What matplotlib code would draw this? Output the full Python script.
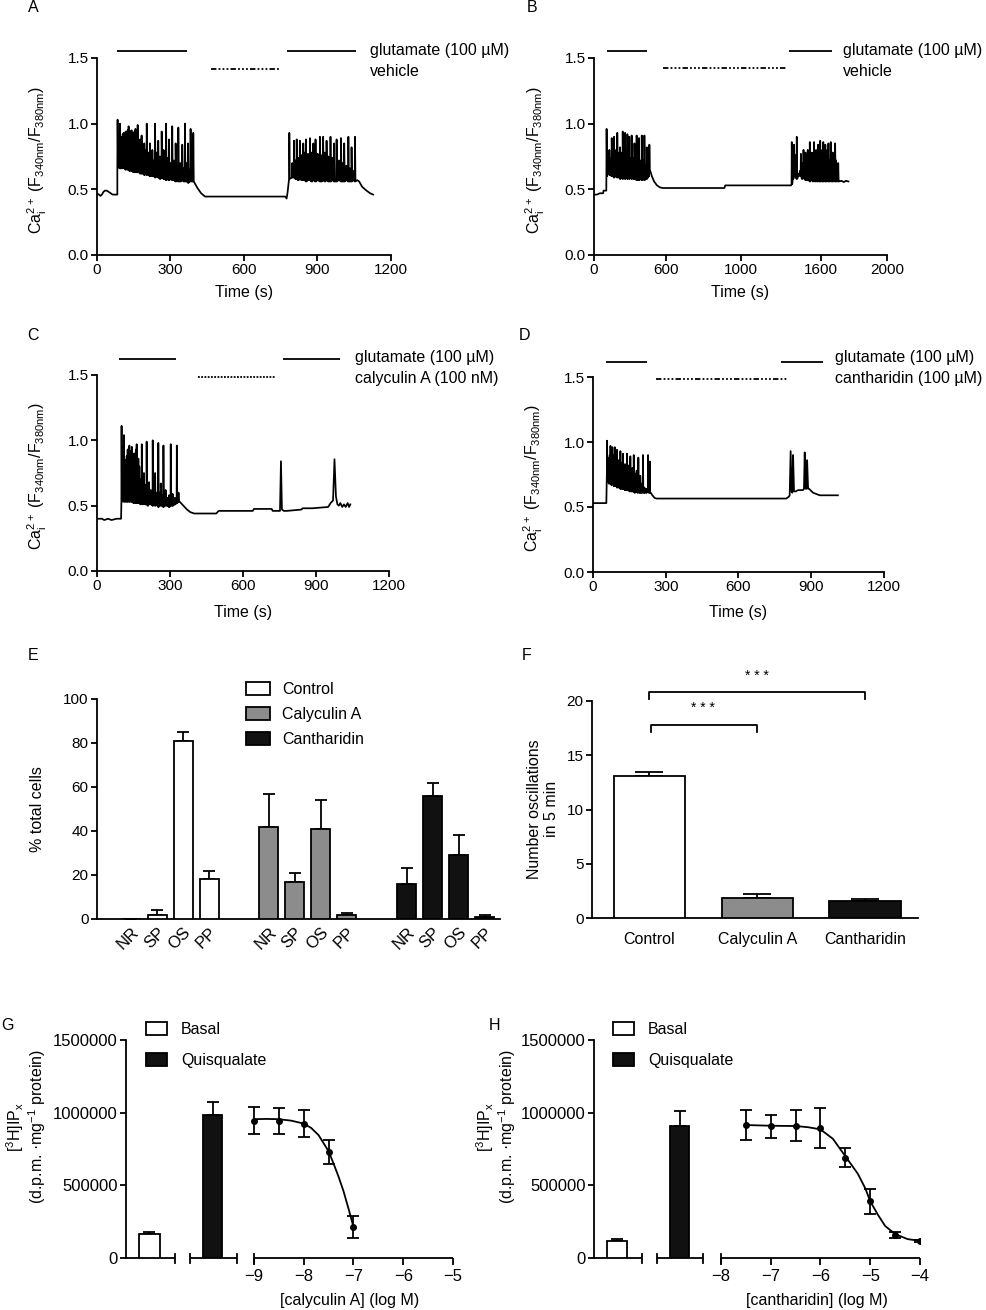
import numpy as np
import matplotlib
matplotlib.use('Agg')
import matplotlib.pyplot as plt
from matplotlib.patches import Patch
from matplotlib.transforms import blended_transform_factory

plt.rcParams['font.family'] = ['Liberation Sans', 'DejaVu Sans']
plt.rcParams['mathtext.default'] = 'regular'
plt.rcParams['axes.unicode_minus'] = True

# ---------------- DATA ----------------
# Panel A  (time s, ratio)
A_pre_t = [0, 8, 14, 20, 26, 32, 40, 48, 56, 64, 72, 80, 83]
A_pre_v = [0.47, 0.46, 0.45, 0.46, 0.48, 0.49, 0.49, 0.48, 0.47, 0.46, 0.46, 0.46, 0.46]
A_b1_t = [84, 94, 101, 105, 109, 113, 117, 121, 125, 129,
          133, 137, 141, 145, 149, 153, 157, 161, 166, 171,
          176, 182, 187, 193, 198, 203, 210, 216, 221, 226,
          232, 237, 244, 250, 257, 264, 272, 277, 282, 288,
          294, 300, 307, 314, 321, 327, 332, 340, 348, 354,
          359, 366, 372, 377, 382, 388, 393]
A_b1_pk = [1.03, 1.00, 0.90, 0.92, 0.93, 0.92, 0.94, 0.93, 0.95, 0.98,
           0.93, 0.94, 0.95, 0.93, 0.92, 0.94, 0.96, 0.93, 0.99, 0.86,
           0.88, 0.91, 0.82, 0.85, 0.80, 1.00, 0.78, 0.85, 0.76, 0.80,
           0.72, 1.00, 0.78, 0.87, 0.75, 0.94, 0.80, 0.70, 1.00, 0.74,
           0.88, 0.70, 0.98, 0.72, 0.85, 0.68, 0.97, 0.70, 0.84, 0.66,
           1.00, 0.70, 0.85, 0.65, 0.96, 0.68, 0.93]
A_b1_tr = [0.67, 0.66, 0.66, 0.67, 0.66, 0.66, 0.65, 0.66, 0.65, 0.65,
           0.64, 0.65, 0.64, 0.64, 0.63, 0.64, 0.63, 0.63, 0.63, 0.63,
           0.62, 0.62, 0.62, 0.61, 0.62, 0.61, 0.61, 0.60, 0.61, 0.60,
           0.60, 0.59, 0.60, 0.59, 0.58, 0.59, 0.58, 0.58, 0.57, 0.58,
           0.57, 0.58, 0.57, 0.57, 0.56, 0.57, 0.56, 0.56, 0.57, 0.56,
           0.56, 0.56, 0.55, 0.56, 0.56, 0.56, 0.56]
A_mid_t = [398, 410, 425, 441, 600, 768, 774, 778]
A_mid_v = [0.55, 0.51, 0.47, 0.445, 0.445, 0.445, 0.43, 0.48]
A_b2_t = [785, 797, 804, 810, 815, 821, 828, 835, 842, 848,
          853, 861, 869, 876, 883, 892, 901, 910, 916, 923,
          930, 937, 945, 953, 960, 968, 978, 987, 996, 1003,
          1009, 1018, 1026, 1033, 1039, 1046, 1053]
A_b2_pk = [0.93, 0.70, 0.87, 0.72, 0.88, 0.74, 0.87, 0.76, 0.85, 0.78,
           0.88, 0.77, 0.89, 0.78, 0.85, 0.88, 0.77, 0.90, 0.76, 0.90,
           0.78, 0.87, 0.75, 0.90, 0.74, 0.85, 0.88, 0.72, 0.89, 0.70,
           0.85, 0.68, 0.90, 0.66, 0.82, 0.64, 0.90]
A_b2_tr = [0.58, 0.59, 0.59, 0.58, 0.58, 0.57, 0.58, 0.57, 0.57, 0.57,
           0.56, 0.57, 0.57, 0.56, 0.57, 0.56, 0.57, 0.56, 0.56, 0.57,
           0.56, 0.57, 0.56, 0.56, 0.57, 0.56, 0.56, 0.57, 0.56, 0.56,
           0.56, 0.57, 0.56, 0.56, 0.56, 0.57, 0.56]
A_post_t = [1062, 1070, 1082, 1100, 1115, 1127]
A_post_v = [0.57, 0.56, 0.52, 0.49, 0.47, 0.46]
A_glut = [(82, 367), (775, 1057)]
A_drug = [(465, 743)]

# Panel B
B_pre_t = [0, 20, 40, 62, 65, 80, 84]
B_pre_v = [0.46, 0.46, 0.47, 0.47, 0.49, 0.49, 0.49]
B_b1_t = [86, 93, 100, 105, 112, 121, 128, 137, 144, 151,
          159, 166, 172, 178, 185, 191, 196, 203, 212, 219,
          228, 234, 241, 248, 257, 264, 270, 276, 283, 291,
          298, 307, 314, 320, 326, 333, 339, 344, 351, 360,
          366, 373, 378]
B_b1_pk = [0.96, 0.75, 0.78, 0.80, 0.74, 0.89, 0.76, 0.90, 0.72, 0.80,
           0.93, 0.75, 0.78, 0.82, 0.74, 0.78, 0.94, 0.80, 0.93, 0.78,
           0.92, 0.76, 0.90, 0.74, 0.91, 0.74, 0.70, 0.85, 0.72, 0.91,
           0.70, 0.89, 0.72, 0.68, 0.91, 0.70, 0.72, 0.91, 0.68, 0.82,
           0.66, 0.82, 0.84]
B_b1_tr = [0.60, 0.63, 0.62, 0.61, 0.62, 0.60, 0.61, 0.59, 0.61, 0.60,
           0.59, 0.60, 0.59, 0.58, 0.60, 0.59, 0.58, 0.59, 0.58, 0.59,
           0.58, 0.59, 0.58, 0.60, 0.58, 0.59, 0.58, 0.58, 0.59, 0.57,
           0.58, 0.57, 0.59, 0.58, 0.57, 0.58, 0.58, 0.57, 0.58, 0.58,
           0.59, 0.60, 0.64]
B_mid_t = [384, 395, 410, 430, 450, 470, 890, 896, 1345]
B_mid_v = [0.64, 0.60, 0.56, 0.53, 0.515, 0.51, 0.51, 0.53, 0.53]
B_b2_t = [1350, 1358, 1366, 1375, 1384, 1395, 1405, 1412, 1420, 1430,
          1437, 1444, 1452, 1459, 1466, 1473, 1480, 1487, 1494, 1502,
          1509, 1516, 1523, 1530, 1537, 1544, 1551, 1558, 1565, 1572,
          1579, 1586, 1593, 1600, 1608, 1616, 1623, 1630, 1638, 1646,
          1653, 1660, 1667]
B_b2_pk = [0.86, 0.80, 0.84, 0.76, 0.90, 0.62, 0.64, 0.77, 0.70, 0.80,
           0.72, 0.78, 0.70, 0.80, 0.74, 0.86, 0.72, 0.78, 0.75, 0.86,
           0.70, 0.80, 0.74, 0.84, 0.76, 0.87, 0.72, 0.80, 0.86, 0.74,
           0.84, 0.70, 0.80, 0.85, 0.72, 0.86, 0.74, 0.78, 0.70, 0.85,
           0.72, 0.68, 0.70]
B_b2_tr = [0.54, 0.58, 0.60, 0.60, 0.58, 0.60, 0.61, 0.60, 0.58, 0.59,
           0.58, 0.57, 0.58, 0.57, 0.58, 0.56, 0.57, 0.58, 0.56, 0.57,
           0.56, 0.57, 0.56, 0.57, 0.56, 0.56, 0.57, 0.56, 0.56, 0.57,
           0.56, 0.56, 0.57, 0.56, 0.56, 0.57, 0.56, 0.56, 0.57, 0.56,
           0.56, 0.57, 0.56]
B_post_t = [1672, 1690, 1705, 1720, 1737]
B_post_v = [0.56, 0.565, 0.555, 0.565, 0.56]
B_glut = [(89, 362), (1332, 1625)]
B_drug = [(471, 1318)]
B_xticks = [0, 490, 1000, 1550, 2000]
B_xticklabels = ['0', '600', '1000', '1600', '2000']

# Panel C
C_pre_t = [0, 20, 30, 45, 60, 80, 99]
C_pre_v = [0.40, 0.40, 0.39, 0.40, 0.39, 0.40, 0.40]
C_b_t = [101, 106, 111, 115, 119, 122, 126, 129, 133, 136,
         140, 143, 146, 150, 153, 156, 160, 163, 167, 170,
         174, 179, 184, 188, 193, 198, 204, 209, 214, 221,
         229, 234, 239, 245, 252, 257, 262, 267, 273, 278,
         282, 290, 296, 303, 311, 320, 328, 335]
C_b_pk = [1.11, 0.95, 1.04, 0.82, 0.85, 0.88, 0.93, 0.90, 0.96, 0.88,
          0.92, 0.95, 0.90, 0.85, 0.90, 0.88, 0.93, 0.97, 0.80, 0.86,
          0.80, 0.70, 0.97, 0.68, 0.75, 0.66, 0.99, 0.62, 0.68, 0.62,
          1.00, 0.64, 0.75, 0.60, 0.98, 0.60, 0.67, 0.58, 0.96, 0.58,
          0.62, 0.56, 0.58, 0.97, 0.59, 0.56, 0.96, 0.60]
C_b_tr = [0.53, 0.54, 0.53, 0.54, 0.53, 0.54, 0.53, 0.54, 0.53, 0.54,
          0.53, 0.54, 0.53, 0.52, 0.53, 0.52, 0.53, 0.52, 0.52, 0.53,
          0.52, 0.51, 0.52, 0.51, 0.52, 0.51, 0.51, 0.50, 0.52, 0.51,
          0.50, 0.51, 0.50, 0.51, 0.49, 0.51, 0.50, 0.50, 0.49, 0.51,
          0.50, 0.50, 0.49, 0.50, 0.50, 0.51, 0.52, 0.53]
C_post_t = [340, 355, 370, 384, 400, 490, 500, 640, 645, 718,
            722, 752, 756, 760, 768, 780, 840, 845, 880, 885,
            950, 960, 970, 976, 982, 988, 994, 1000, 1008, 1015,
            1022, 1030, 1036, 1041]
C_post_v = [0.53, 0.50, 0.47, 0.45, 0.44, 0.44, 0.46, 0.46, 0.475, 0.475,
            0.46, 0.46, 0.84, 0.47, 0.46, 0.46, 0.47, 0.48, 0.48, 0.48,
            0.49, 0.52, 0.54, 0.855, 0.57, 0.51, 0.50, 0.52, 0.49, 0.51,
            0.49, 0.52, 0.49, 0.51]
C_glut = [(91, 325), (763, 997)]
C_drug = [(417, 736)]

# Panel D
D_pre_t = [0, 30, 55]
D_pre_v = [0.53, 0.53, 0.53]
D_b_t = [58, 62, 66, 69, 72, 76, 80, 84, 87, 90,
         94, 97, 99, 103, 106, 110, 113, 117, 120, 124,
         128, 132, 136, 140, 144, 148, 151, 154, 158, 162,
         165, 168, 172, 176, 180, 184, 187, 191, 195, 200,
         206, 212, 220, 227, 231, 234]
D_b_pk = [1.01, 0.85, 0.88, 0.90, 0.97, 0.88, 0.96, 0.86, 0.90, 0.96,
          0.85, 0.88, 0.94, 0.84, 0.86, 0.82, 0.93, 0.82, 0.84, 0.91,
          0.80, 0.83, 0.78, 0.91, 0.80, 0.82, 0.76, 0.89, 0.78, 0.80,
          0.75, 0.90, 0.76, 0.74, 0.78, 0.72, 0.88, 0.70, 0.74, 0.68,
          0.90, 0.65, 0.64, 0.90, 0.63, 0.85]
D_b_tr = [0.76, 0.70, 0.68, 0.69, 0.68, 0.67, 0.68, 0.67, 0.66, 0.67,
          0.66, 0.66, 0.65, 0.66, 0.65, 0.65, 0.64, 0.65, 0.64, 0.64,
          0.64, 0.63, 0.64, 0.63, 0.63, 0.63, 0.62, 0.63, 0.62, 0.62,
          0.62, 0.62, 0.61, 0.62, 0.62, 0.61, 0.62, 0.61, 0.61, 0.61,
          0.61, 0.61, 0.61, 0.62, 0.61, 0.61]
D_post_t = [238, 245, 254, 262, 500, 797, 808, 811, 815, 819,
            822, 825, 829, 836, 846, 866, 870, 873, 877, 880,
            883, 887, 891, 907, 921, 935, 950, 965, 980, 995, 1010]
D_post_v = [0.61, 0.59, 0.57, 0.565, 0.565, 0.565, 0.58, 0.59, 0.93, 0.62,
            0.61, 0.90, 0.62, 0.62, 0.63, 0.63, 0.64, 0.92, 0.64, 0.64,
            0.86, 0.64, 0.64, 0.61, 0.60, 0.59, 0.59, 0.59, 0.59, 0.59, 0.59]
D_glut = [(52, 222), (777, 947)]
D_drug = [(261, 798)]

# Panel E
E_categories = ['NR', 'SP', 'OS', 'PP']
E_groups = ['Control', 'Calyculin A', 'Cantharidin']
E_means = [[0, 2, 81, 18], [42, 17, 41, 2], [16, 56, 29, 1]]
E_errs = [[0, 2, 4, 4], [15, 4, 13, 0.6], [7, 6, 9, 0.6]]

# Panel F
F_groups = ['Control', 'Calyculin A', 'Cantharidin']
F_means = [13.1, 1.8, 1.6]
F_errs = [0.4, 0.4, 0.15]

# Panel G (calyculin A)
G_bars = [165000, 985000]          # Basal, Quisqualate
G_bar_errs = [14000, 90000]
G_logc = [-9.0, -8.5, -8.0, -7.5, -7.0]
G_mean = [945000, 945000, 925000, 730000, 215000]
G_err = [95000, 90000, 90000, 80000, 75000]
G_fit_x = [-9.0, -8.75, -8.5, -8.25, -8.0, -7.85, -7.7, -7.6, -7.5, -7.4, -7.3, -7.2, -7.1, -7.0]
G_fit_y = [955000, 957000, 955000, 945000, 925000, 895000, 845000, 790000, 735000, 650000,
           560000, 460000, 340000, 215000]

# Panel H (cantharidin)
H_bars = [120000, 910000]
H_bar_errs = [12000, 103000]
H_logc = [-7.5, -7.0, -6.5, -6.0, -5.5, -5.0, -4.5, -4.0]
H_mean = [915000, 905000, 910000, 895000, 690000, 390000, 160000, 118000]
H_err = [105000, 80000, 105000, 135000, 65000, 85000, 20000, 8000]
H_fit_x = [-7.5, -7.0, -6.5, -6.25, -6.0, -5.75, -5.5, -5.25, -5.1, -5.0, -4.85, -4.7, -4.5, -4.25, -4.0]
H_fit_y = [915000, 910000, 908000, 900000, 885000, 820000, 700000, 580000, 480000, 390000,
           300000, 220000, 165000, 130000, 118000]

BAR_LEGEND = ['Basal', 'Quisqualate']
GRAY = '#8c8c8c'
BLACK = '#111111'

# ---------------- FIGURE ----------------
W, H = 987, 1310
fig = plt.figure(figsize=(W / 100, H / 100), dpi=100)
FS = 11.5
TFS = 11


def add_ax(x0, y0, x1, y1):
    return fig.add_axes([x0 / W, 1 - y1 / H, (x1 - x0) / W, (y1 - y0) / H])


def ftext(x, y, s, **kw):
    kw.setdefault('fontsize', FS)
    fig.text(x / W, 1 - y / H, s, **kw)


def style(ax, tfs=TFS):
    for s in ['top', 'right']:
        ax.spines[s].set_visible(False)
    for s in ['left', 'bottom']:
        ax.spines[s].set_linewidth(1.3)
    ax.tick_params(direction='out', length=4, width=1.3, labelsize=tfs, pad=2)


def build_trace(parts, rise, fall):
    ts, vs = [], []
    for p in parts:
        if p[0] == 'line':
            ts += list(p[1])
            vs += list(p[2])
        else:
            _, st, pk, tr = p
            for t, a, b in zip(st, pk, tr):
                ts += [t - rise, t, t + fall]
                vs += [b, a, b]
    return np.array(ts, float), np.array(vs, float)


YLAB = r'Ca$^{2+}_{i}$ (F$_{340nm}$/F$_{380nm}$)'


def trace_panel(rect, parts, rise, fall, xmax, xticks, xticklabels, glut, drug, gy, dy,
                dstyle, txt_x, txt_y1, txt_y2, drug_label, ylab_x, xlab_y):
    ax = add_ax(*rect)
    style(ax)
    t, v = build_trace(parts, rise, fall)
    ax.plot(t, v, color='black', lw=1.25)
    ax.set_xlim(0, xmax)
    ax.set_ylim(0, 1.5)
    ax.set_yticks([0, 0.5, 1.0, 1.5])
    ax.set_yticklabels(['0.0', '0.5', '1.0', '1.5'])
    ax.set_xticks(xticks)
    ax.set_xticklabels(xticklabels)
    for a, b in glut:
        ax.plot([a, b], [gy, gy], color='black', lw=1.3, clip_on=False, solid_capstyle='butt')
    for a, b in drug:
        ax.plot([a, b], [dy, dy], color='black', lw=1.3, clip_on=False, linestyle=dstyle)
    ftext(txt_x, txt_y1, 'glutamate (100 µM)', va='center', ha='left')
    ftext(txt_x, txt_y2, drug_label, va='center', ha='left')
    x0, y0, x1, y1 = rect
    ftext(ylab_x, (y0 + y1) / 2 + 3, YLAB, rotation=90, va='center', ha='center')
    ftext((x0 + x1) / 2, xlab_y, 'Time (s)', va='center', ha='center')
    return ax


DASHDOT = (0, (3, 1.2, 1, 1.2, 1, 1.2, 1, 1.2))
DOTTED = (0, (1, 0.8))

# A
trace_panel((97, 58, 391, 255),
            [('line', A_pre_t, A_pre_v), ('sp', A_b1_t, A_b1_pk, A_b1_tr),
             ('line', A_mid_t, A_mid_v), ('sp', A_b2_t, A_b2_pk, A_b2_tr),
             ('line', A_post_t, A_post_v)],
            1, 2, 1200, [0, 300, 600, 900, 1200], ['0', '300', '600', '900', '1200'],
            A_glut, A_drug, 1.553, 1.416, DASHDOT, 370, 50, 71, 'vehicle', 37, 293)
# B
trace_panel((594, 58, 887, 255),
            [('line', B_pre_t, B_pre_v), ('sp', B_b1_t, B_b1_pk, B_b1_tr),
             ('line', B_mid_t, B_mid_v), ('sp', B_b2_t, B_b2_pk, B_b2_tr),
             ('line', B_post_t, B_post_v)],
            1.5, 3, 2000, B_xticks, B_xticklabels,
            B_glut, B_drug, 1.553, 1.424, DASHDOT, 843, 50, 71, 'vehicle', 535, 293)
# C
trace_panel((97, 375, 389, 571),
            [('line', C_pre_t, C_pre_v), ('sp', C_b_t, C_b_pk, C_b_tr),
             ('line', C_post_t, C_post_v)],
            0.8, 1.5, 1200, [0, 300, 600, 900, 1200], ['0', '300', '600', '900', '1200'],
            C_glut, C_drug, 1.62, 1.485, DOTTED, 355, 358, 378, 'calyculin A (100 nM)', 37, 612)
# D
trace_panel((593, 377, 884, 572),
            [('line', D_pre_t, D_pre_v), ('sp', D_b_t, D_b_pk, D_b_tr),
             ('line', D_post_t, D_post_v)],
            0.8, 1.5, 1200, [0, 300, 600, 900, 1200], ['0', '300', '600', '900', '1200'],
            D_glut, D_drug, 1.615, 1.485, DASHDOT, 835, 358, 379, 'cantharidin (100 µM)', 533, 612)

# E
axE = add_ax(97, 699, 500, 919)
style(axE)
colors = ['white', GRAY, BLACK]
pos_all, lab_all = [], []
for g, grp in enumerate(E_groups):
    pos = [g * 5.3 + j for j in range(len(E_categories))]
    axE.bar(pos, E_means[g], width=0.73, color=colors[g], edgecolor='black', lw=1.3, zorder=3)
    axE.errorbar(pos, E_means[g], yerr=[np.zeros(4), E_errs[g]], fmt='none', ecolor='black',
                 elinewidth=1.3, capsize=4.5, capthick=1.3, zorder=2)
    pos_all += pos
    lab_all += E_categories
axE.set_xlim(-1.31, 14.19)
axE.set_ylim(0, 100)
axE.set_yticks([0, 20, 40, 60, 80, 100])
axE.set_xticks(pos_all)
axE.set_xticklabels(lab_all, rotation=45, ha='right', va='top', rotation_mode='anchor',
                    fontsize=12)
axE.tick_params(axis='x', length=0, pad=4)
ftext(38, 809, '% total cells', rotation=90, va='center', ha='center')
handles = [Patch(facecolor=c, edgecolor='black', lw=1.3, label=l) for c, l in zip(colors, E_groups)]
axE.legend(handles=handles, loc='upper left', bbox_to_anchor=(246 / W, 1 - 682 / H),
           bbox_transform=fig.transFigure, frameon=False, fontsize=FS, borderpad=0,
           borderaxespad=0, handlelength=1.5, handleheight=0.875, handletextpad=0.75,
           labelspacing=0.62)

# F
axF = add_ax(592, 701, 918, 918)
style(axF)
fx = np.arange(len(F_groups))
axF.bar(fx, F_means, width=0.66, color=colors, edgecolor='black', lw=1.3, zorder=3)
axF.errorbar(fx, F_means, yerr=[np.zeros(3), F_errs], fmt='none', ecolor='black',
             elinewidth=1.3, capsize=10, capthick=1.3, zorder=2)
axF.set_xlim(-0.53, 2.49)
axF.set_ylim(0, 20)
axF.set_yticks([0, 5, 10, 15, 20])
axF.set_xticks(fx)
axF.set_xticklabels(F_groups, fontsize=FS)
axF.tick_params(axis='x', length=0, pad=10)
axF.plot([0, 0, 2, 2], [20.2, 20.8, 20.8, 20.2], color='black', lw=1.3, clip_on=False)
axF.plot([0.02, 0.02, 1.0, 1.0], [17.1, 17.8, 17.8, 17.1], color='black', lw=1.3, clip_on=False)
axF.text(1.0, 22.3, '* * *', ha='center', va='center', fontsize=10)
axF.text(0.5, 19.35, '* * *', ha='center', va='center', fontsize=10)
ftext(543, 809, 'Number oscillations\nin 5 min', rotation=90, va='center', ha='center',
      multialignment='center', linespacing=1.1)


# G & H
def conc_panel(rect, xmin, xmax, segs, bar_x, bar_w, bars, bar_errs, logc, mean, err,
               fit_x, fit_y, xticks, xlabel, ylab_x, leg_x):
    ax = add_ax(*rect)
    style(ax, tfs=12)
    ax.spines['bottom'].set_visible(False)
    ax.set_xlim(xmin, xmax)
    ax.set_ylim(0, 1500000)
    ax.set_yticks([0, 500000, 1000000, 1500000])
    ax.set_yticklabels(['0', '500000', '1000000', '1500000'])
    ax.set_xticks(xticks)
    ax.tick_params(axis='x', length=5, width=1.3, pad=3)
    trans = blended_transform_factory(ax.transData, ax.transAxes)
    for a, b in segs:
        ax.plot([a, b], [0, 0], color='black', lw=1.3, clip_on=False, solid_capstyle='butt')
    ends = [segs[0][1], segs[1][0], segs[1][1], segs[2][0]]
    for e in ends:
        ax.plot([e, e], [-0.022, 0.02], color='black', lw=1.3, transform=trans, clip_on=False)
    bcol = ['white', BLACK]
    for x, w, h, e, c in zip(bar_x, bar_w, bars, bar_errs, bcol):
        ax.bar([x], [h], width=w, color=c, edgecolor='black', lw=1.3, zorder=3)
        ax.errorbar([x], [h], yerr=[[0], [e]], fmt='none', ecolor='black', elinewidth=1.3,
                    capsize=4, capthick=1.3, zorder=2)
    ax.plot(fit_x, fit_y, color='black', lw=1.3, zorder=3)
    ax.errorbar(logc, mean, yerr=err, fmt='o', ms=4, color='black', ecolor='black',
                elinewidth=1.3, capsize=4.5, capthick=1.3, zorder=4)
    x0, y0, x1, y1 = rect
    ftext((x0 + x1) / 2 + 60, 1301, xlabel, va='center', ha='center')
    ftext(ylab_x, 1127, '[$^{3}$H]IP$_{x}$\n(d.p.m. ·mg$^{-1}$ protein)', rotation=90,
          va='center', ha='center', multialignment='center', linespacing=1.05)
    handles = [Patch(facecolor=c, edgecolor='black', lw=1.3, label=l) for c, l in zip(bcol, BAR_LEGEND)]
    ax.legend(handles=handles, loc='upper left', bbox_to_anchor=(leg_x / W, 1 - 1022 / H),
              bbox_transform=fig.transFigure, frameon=False, fontsize=FS, borderpad=0,
              borderaxespad=0, handlelength=1.3, handleheight=0.9, handletextpad=0.9,
              labelspacing=1.0)
    return ax


conc_panel((126, 1040, 453, 1258), -11.57, -5,
           [(-11.57, -10.59), (-10.29, -9.34), (-9.0, -5.0)],
           [-11.10, -9.83], [0.42, 0.38], G_bars, G_bar_errs, G_logc, G_mean, G_err,
           G_fit_x, G_fit_y, [-9, -8, -7, -6, -5], '[calyculin A] (log M)', 26, 146)
conc_panel((594, 1040, 920, 1258), -10.55, -4,
           [(-10.55, -9.59), (-9.29, -8.36), (-8.0, -4.0)],
           [-10.09, -8.83], [0.40, 0.38], H_bars, H_bar_errs, H_logc, H_mean, H_err,
           H_fit_x, H_fit_y, [-8, -7, -6, -5, -4], '[cantharidin] (log M)', 496, 613)

# panel letters
for L, x, y in [('A', 33, 8), ('B', 532, 8), ('C', 33, 335), ('D', 525, 335),
                ('E', 33, 655), ('F', 527, 655), ('G', 8, 1025), ('H', 495, 1025)]:
    ftext(x, y, L, va='center', ha='center', fontsize=11.5)

fig.savefig('out.png', dpi=100)
